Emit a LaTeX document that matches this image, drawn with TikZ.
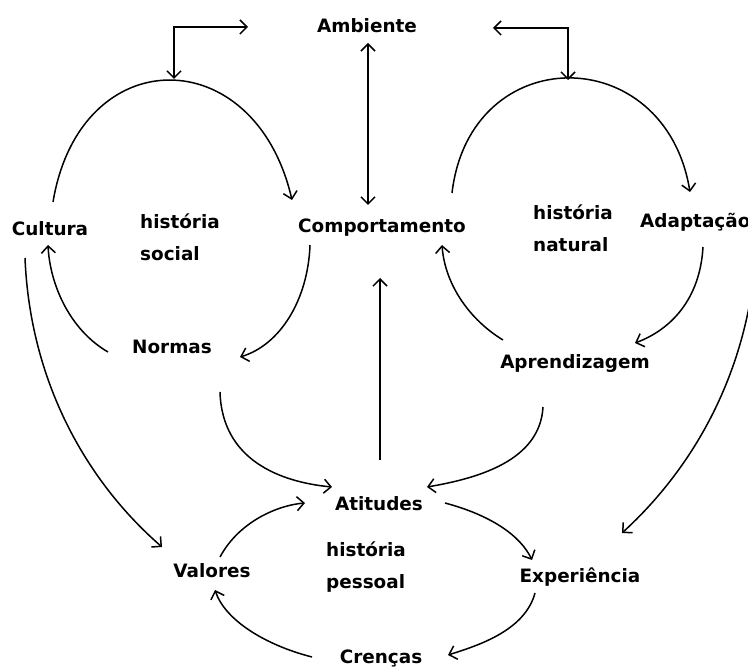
\documentclass[tikz,border=0pt]{standalone}
\usepackage{fontspec}
\setmainfont{DejaVu Sans}
\usetikzlibrary{arrows.meta,calc}
\begin{document}
\begin{tikzpicture}[x=1pt,y=-1pt,
  lbl/.style={inner sep=0pt,font=\fontsize{18.4}{32}\selectfont\bfseries},
  con/.style={line width=1.5pt,-{Straight Barb[length=7pt,width=14pt,line width=1.5pt]}},
  dcon/.style={line width=1.5pt,{Straight Barb[length=7pt,width=14pt,line width=1.5pt]}-{Straight Barb[length=7pt,width=14pt,line width=1.5pt]}}]
\fill[white] (0,0) rectangle (748,668);
\useasboundingbox (0,0) rectangle (748,668);
% nodes
\node[lbl,anchor=base] (amb) at (367,33) {Ambiente};
\node[lbl,anchor=base] (comp) at (382,233) {Comportamento};
\node[lbl,anchor=base] (cult) at (50,236) {Cultura};
\node[lbl,anchor=base west,align=left] (hsoc) at (140,261) {história\\social};
\node[lbl,anchor=base west,align=left] (hnat) at (533,252) {história\\natural};
\node[lbl,anchor=base west] (adapt) at (640,228) {Adaptação};
\node[lbl,anchor=base] (norm) at (172,354) {Normas};
\node[lbl,anchor=base] (aprend) at (575,369) {Aprendizagem};
\node[lbl,anchor=base] (atit) at (379,511) {Atitudes};
\node[lbl,anchor=base west,align=left] (hpes) at (326,588) {história\\pessoal};
\node[lbl,anchor=base] (val) at (212,578) {Valores};
\node[lbl,anchor=base] (exp) at (580,583) {Experiência};
\node[lbl,anchor=base] (cren) at (381,663) {Crenças};
\coordinate (tld) at (174,79);
\coordinate (trd) at (568,80);
% top brackets and double arrows
\draw[dcon] (tld) |- ([shift={(-119,-6)}]amb.base);
\draw[dcon] ([shift={(126,-5)}]amb.base) -| (trd);
\draw[dcon] ([shift={(1,10)}]amb.base) -- ([shift={(-14,-28)}]comp.base);
\draw[con] ([shift={(1,-51)}]atit.base) -- ([shift={(-2,45)}]comp.base);
% social history cycle
\draw[con] ([shift={(3,-34)}]cult.base) .. controls (80,40) and (255,40) .. ([shift={(-90,-33)}]comp.base);
\draw[con] ([shift={(-72,12)}]comp.base) .. controls (308,300) and (280,345) .. ([shift={(68,3)}]norm.base);
\draw[con] ([shift={(-64,-2)}]norm.base) .. controls (70,330) and (50,285) .. ([shift={(-2,9)}]cult.base);
% natural history cycle
\draw[con] ([shift={(70,-40)}]comp.base) .. controls (470,40) and (665,40) .. ([shift={(50,-36)}]adapt.base west);
\draw[con] ([shift={(63,19)}]adapt.base west) .. controls (700,300) and (670,330) .. ([shift={(60,-26)}]aprend.base);
\draw[con] ([shift={(-72,-29)}]aprend.base) .. controls (470,320) and (445,285) .. ([shift={(60,12)}]comp.base);
% into attitudes
\draw[con] ([shift={(48,38)}]norm.base) .. controls (222,460) and (280,482) .. ([shift={(-47,-24)}]atit.base);
\draw[con] ([shift={(-32,38)}]aprend.base) .. controls (540,460) and (480,478) .. ([shift={(48,-24)}]atit.base);
% long arcs
\draw[con] ([shift={(-25,22)}]cult.base) .. controls (30,380) and (85,480) .. ([shift={(-50,-31)}]val.base);
\draw[con] ([shift={(112,62)}]adapt.base west) .. controls (735,400) and (680,480) .. ([shift={(42,-50)}]exp.base);
% personal history cycle
\draw[con] ([shift={(66,-8)}]atit.base) .. controls (490,515) and (520,535) .. ([shift={(-48,-23)}]exp.base);
\draw[con] ([shift={(-45,10)}]exp.base) .. controls (525,630) and (480,645) .. ([shift={(67,-8)}]cren.base);
\draw[con] ([shift={(-69,-6)}]cren.base) .. controls (265,645) and (225,620) .. ([shift={(3,12)}]val.base);
\draw[con] ([shift={(8,-21)}]val.base) .. controls (240,520) and (280,505) .. ([shift={(-74,-8)}]atit.base);
\end{tikzpicture}
\end{document}
